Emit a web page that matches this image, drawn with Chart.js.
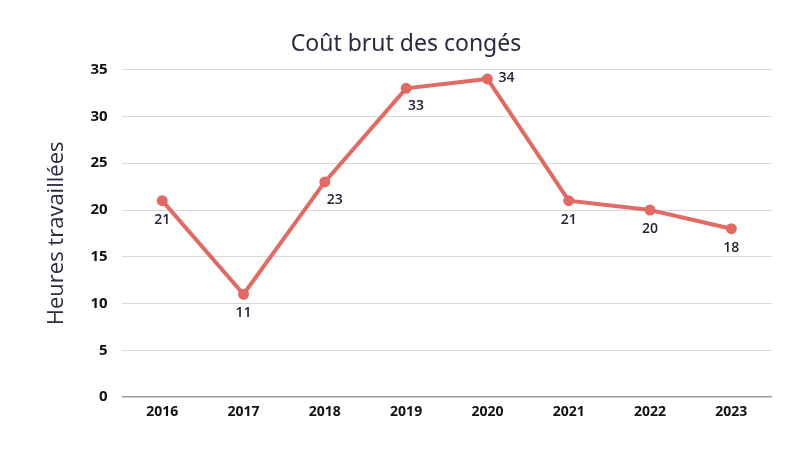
<!DOCTYPE html>
<html><head><meta charset="utf-8">
<script src="https://cdn.jsdelivr.net/npm/chart.js@4"></script>
<style>html,body{margin:0;padding:0;background:#fff}#w{width:812px;height:454px}</style>
</head><body><div id="w"><canvas id="c"></canvas></div>
<script>
const categories = ["2016","2017","2018","2019","2020","2021","2022","2023"];
const values = [21, 11, 23, 33, 34, 21, 20, 18];
const yTicks = [0, 5, 10, 15, 20, 25, 30, 35];
const labelPos = ["below","below","belowRight","belowRight","right","below","below","below"];

const labelPlugin = {
  id: 'lbl',
  afterDatasetsDraw(chart) {
    const ctx = chart.ctx;
    const meta = chart.getDatasetMeta(0);
    ctx.save();
    ctx.font = '600 14px "Open Sans"';
    ctx.fillStyle = '#23233a';
    ctx.textBaseline = 'middle';
    meta.data.forEach((p, i) => {
      let x = p.x, y = p.y;
      const pos = labelPos[i];
      if (pos === 'below') { ctx.textAlign = 'center'; y += 19; }
      else if (pos === 'belowRight') { ctx.textAlign = 'center'; x += 10; y += 18; }
      else { ctx.textAlign = 'left'; x += 11; y -= 1; }
      ctx.fillText(String(values[i]), x, y);
    });
    ctx.restore();
  }
};

new Chart(document.getElementById('c'), {
  type: 'line',
  data: { labels: categories, datasets: [{
    data: values, borderColor: '#e06a64', backgroundColor: '#e06a64',
    borderWidth: 4, pointRadius: 3.5, pointHoverRadius: 3.5, tension: 0, clip: false
  }]},
  options: {
    responsive: true, maintainAspectRatio: false, animation: false,
    layout: { padding: { left: 40, right: 40, top: 27, bottom: 28 } },
    plugins: {
      legend: { display: false }, tooltip: { enabled: false },
      title: { display: true, text: 'Coût brut des congés', color: '#2a2a40',
        font: { family: '"Noto Sans"', size: 23, weight: 'normal' }, padding: { top: 4, bottom: 11 } }
    },
    scales: {
      x: { offset: true, grid: { display: false, drawTicks: false },
        border: { display: false },
        ticks: { color: '#111', font: { family: '"Open Sans"', size: 14, weight: 'bold' }, padding: 6 } },
      y: { min: 0, max: 35, afterBuildTicks: s => { s.ticks = yTicks.map(v => ({ value: v })); },
        grid: { color: c => c.tick.value === 0 ? '#9a9a9a' : '#d9d9d9', lineWidth: c => c.tick.value === 0 ? 1.5 : 1, drawTicks: false },
        border: { display: false },
        ticks: { color: '#111', font: { family: '"Open Sans"', size: 15, weight: 'bold' }, padding: 14 },
        title: { display: true, text: 'Heures travaillées', color: '#2a2a40',
          font: { family: '"Open Sans"', size: 22, weight: 'normal' }, padding: { bottom: 6 } } }
    }
  },
  plugins: [labelPlugin]
});
</script></body></html>
